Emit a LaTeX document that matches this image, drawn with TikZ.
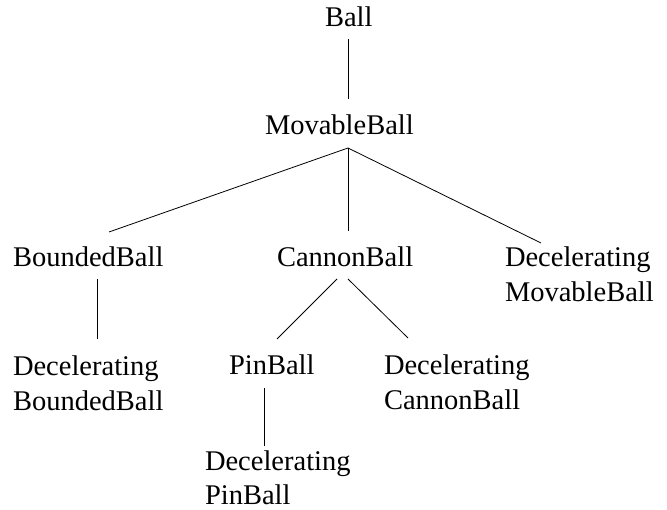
\documentclass[tikz,border=0pt]{standalone}
\usepackage{fontspec}
\setmainfont{Liberation Serif}
\usetikzlibrary{calc}
\begin{document}
\begin{tikzpicture}[x=1pt,y=-1pt,
  lbl/.style={inner sep=0pt,outer sep=0pt,anchor=base west,align=left,
    font=\fontsize{28.5}{34.5}\selectfont},
  edge/.style={line width=0.8pt}]
\useasboundingbox (0,0) rectangle (667,510);
\node[lbl] (ball) at (325,27) {Ball};
\node[lbl] (mb) at (265,135) {MovableBall};
\node[lbl] (bb) at (13,267) {BoundedBall};
\node[lbl] (cb) at (277,267) {CannonBall};
\node[lbl] (dmb) at (505,301.5) {Decelerating\\MovableBall};
\node[lbl] (dbb) at (13,410.5) {Decelerating\\BoundedBall};
\node[lbl] (pb) at (229,375) {PinBall};
\node[lbl] (dcb) at (384,409.5) {Decelerating\\CannonBall};
\node[lbl] (dpb) at (205,504.5) {Decelerating\\PinBall};
\draw[edge] ($(ball.base west)+(23,12)$) -- ($(mb.base west)+(83,-36)$);
\draw[edge] ($(mb.base west)+(83,13)$) -- ($(bb.base west)+(96,-35)$);
\draw[edge] ($(mb.base west)+(83,13)$) -- ($(cb.base west)+(71,-36)$);
\draw[edge] ($(mb.base west)+(83,13)$) -- ($(dmb.base west)+(36,-58.5)$);
\draw[edge] ($(bb.base west)+(84,12)$) -- ($(dbb.base west)+(84,-71.5)$);
\draw[edge] ($(cb.base west)+(60,12)$) -- ($(pb.base west)+(48,-36)$);
\draw[edge] ($(cb.base west)+(71,12)$) -- ($(dcb.base west)+(24,-71.5)$);
\draw[edge] ($(pb.base west)+(35,13)$) -- ($(dpb.base west)+(59,-58.5)$);
\end{tikzpicture}
\end{document}
